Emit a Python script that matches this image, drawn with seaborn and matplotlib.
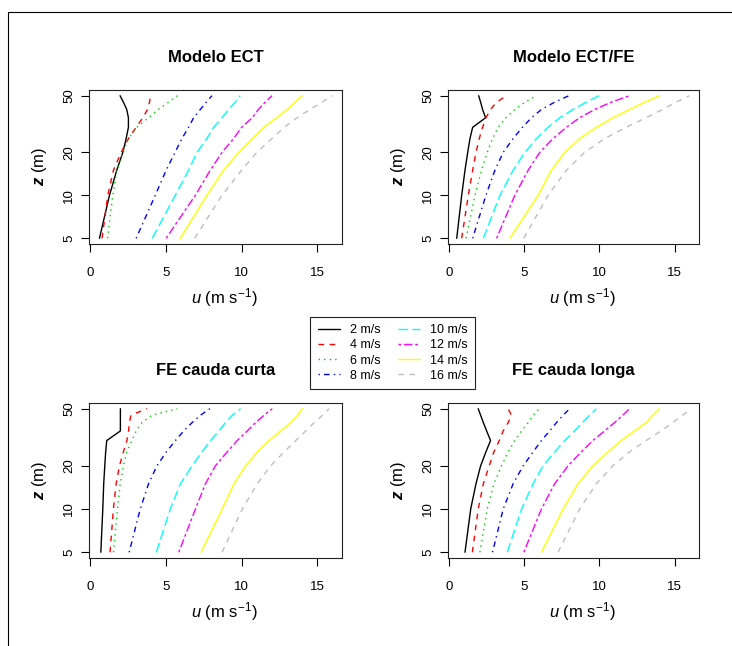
import pandas as pd
import matplotlib.pyplot as plt
import seaborn as sns
from matplotlib.lines import Line2D
from matplotlib.ticker import NullLocator

# alturas (m) e velocidades de referencia
z_m = [5, 10, 15, 20, 25, 30, 35, 40, 45, 50]
speeds = ['2 m/s', '4 m/s', '6 m/s', '8 m/s', '10 m/s', '12 m/s', '14 m/s', '16 m/s']
titles = ['Modelo ECT', 'Modelo ECT/FE', 'FE cauda curta', 'FE cauda longa']

# perfis u(z), uma lista por velocidade
u_ect = [
    [0.62, 1.28, 1.76, 2.16, 2.38, 2.53, 2.53, 2.42, 2.20, 1.98],
    [0.79, 1.17, 1.54, 2.05, 2.53, 3.04, 3.48, 3.79, 3.92, 4.00],
    [1.15, 1.50, 1.76, 2.16, 2.53, 3.08, 3.85, 4.50, 5.18, 5.77],
    [3.04, 4.30, 5.02, 5.60, 6.06, 6.50, 6.83, 7.27, 7.67, 8.04],
    [4.10, 5.62, 6.50, 7.05, 7.70, 8.15, 8.70, 9.14, 9.58, 9.90],
    [5.02, 6.94, 7.93, 8.70, 9.47, 10.0, 10.7, 11.1, 11.56, 12.0],
    [5.95, 7.70, 8.80, 9.80, 10.7, 11.45, 12.3, 13.0, 13.5, 14.0],
    [6.90, 8.70, 10.0, 11.0, 12.0, 12.8, 13.66, 14.5, 15.3, 16.0],
]
u_ect_fe = [
    [0.51, 0.84, 1.06, 1.24, 1.39, 1.57, 2.43, 2.23, 2.10, 1.97],
    [0.84, 1.28, 1.57, 1.79, 2.01, 2.23, 2.45, 2.76, 3.16, 3.82],
    [1.13, 1.72, 2.16, 2.54, 2.89, 3.27, 3.78, 4.37, 5.04, 5.81],
    [1.57, 2.45, 3.05, 3.60, 4.26, 4.88, 5.48, 6.14, 7.02, 7.97],
    [2.28, 3.38, 4.26, 5.04, 5.81, 6.58, 7.36, 8.24, 9.12, 9.96],
    [3.16, 4.37, 5.26, 6.03, 6.91, 7.80, 8.68, 9.68, 10.78, 12.0],
    [4.04, 5.92, 6.80, 7.69, 8.68, 9.79, 10.89, 12.0, 13.0, 13.98],
    [4.97, 6.58, 7.80, 9.01, 10.34, 11.77, 13.1, 14.2, 15.09, 15.97],
]
u_curta = [
    [0.71, 0.84, 0.90, 0.97, 1.03, 1.10, 2.00, 2.00, 2.00, 2.00],
    [1.32, 1.54, 1.72, 1.94, 2.20, 2.43, 2.54, 2.60, 2.69, 3.75],
    [1.54, 1.81, 1.99, 2.20, 2.43, 2.76, 3.04, 3.42, 4.08, 5.74],
    [2.58, 3.31, 3.86, 4.41, 5.03, 5.63, 6.18, 6.73, 7.28, 7.90],
    [4.37, 5.29, 5.96, 6.73, 7.39, 7.94, 8.50, 8.93, 9.38, 9.93],
    [5.85, 6.95, 7.61, 8.27, 9.04, 9.71, 10.37, 10.92, 11.47, 12.02],
    [7.32, 8.71, 9.49, 10.26, 11.03, 11.80, 12.57, 13.24, 13.68, 14.0],
    [8.71, 10.04, 11.03, 11.91, 12.80, 13.57, 14.23, 14.78, 15.33, 15.77],
]
u_longa = [
    [1.06, 1.44, 1.79, 2.10, 2.45, 2.76, 2.50, 2.28, 2.10, 1.94],
    [1.55, 1.94, 2.28, 2.67, 2.98, 3.34, 3.60, 3.93, 4.15, 3.93],
    [2.05, 2.54, 2.98, 3.49, 3.93, 4.37, 4.82, 5.26, 5.59, 5.99],
    [2.89, 3.60, 4.26, 4.93, 5.59, 6.14, 6.69, 7.14, 7.58, 8.02],
    [3.87, 4.82, 5.59, 6.25, 7.02, 7.69, 8.35, 8.86, 9.34, 9.79],
    [4.97, 6.14, 7.02, 7.91, 8.79, 9.56, 10.34, 11.0, 11.55, 12.0],
    [6.14, 7.58, 8.57, 9.56, 10.56, 11.44, 12.33, 13.1, 13.54, 13.98],
    [7.25, 8.68, 9.79, 10.89, 12.0, 13.1, 14.09, 14.87, 15.53, 16.08],
]
panels = [u_ect, u_ect_fe, u_curta, u_longa]

# estilos no padrao do R (palette() e lty 1..8)
colors = ['#000000', '#FF0000', '#00CD00', '#0000FF', '#00FFFF', '#FF00FF', '#FFFF00', '#BEBEBE']
dash_list = ['', (4, 4), (1, 3), (1, 3, 4, 3), (7, 3), (2, 2, 6, 2), '', (4, 4)]
palette = dict(zip(speeds, colors))
dashes = dict(zip(speeds, dash_list))

sns.set_style('ticks')
plt.rcParams['font.family'] = ['Liberation Sans', 'DejaVu Sans']
plt.rcParams['mathtext.fontset'] = 'custom'
plt.rcParams['mathtext.rm'] = 'Liberation Sans'
plt.rcParams['mathtext.it'] = 'Liberation Sans:italic'
plt.rcParams['mathtext.bf'] = 'Liberation Sans:bold:italic'
for key in ['text.color', 'axes.labelcolor', 'xtick.color', 'ytick.color']:
    plt.rcParams[key] = 'black'

W, H = 732, 646
fig = plt.figure(figsize=(W / 100, H / 100), dpi=100)
boxes = [(89, 90, 342, 244), (448, 90, 699, 244), (89, 403, 342, 558), (448, 403, 699, 558)]

handles = None
for i, (u_all, title, (l, t, r, b)) in enumerate(zip(panels, titles, boxes)):
    ax = fig.add_axes([l / W, 1 - b / H, (r - l) / W, (b - t) / H])
    rows = []
    for s, u in zip(speeds, u_all):
        for uu, zz in zip(u, z_m):
            rows.append({'u': uu, 'z': zz, 'vel': s})
    df = pd.DataFrame(rows)
    sns.lineplot(data=df, x='u', y='z', hue='vel', style='vel', hue_order=speeds,
                 style_order=speeds, palette=palette, dashes=dashes, sort=False,
                 estimator=None, units='vel', linewidth=1.0, ax=ax, legend=(i == 0))
    if i == 0:
        handles, labels = ax.get_legend_handles_labels()
        ax.get_legend().remove()
    ax.set_yscale('log')
    ax.set_xlim(-0.07, 16.62)
    ax.set_ylim(4.56, 54.8)
    ax.set_xticks([0, 5, 10, 15])
    ax.set_xticklabels(['0', '5', '10', '15'])
    ax.set_yticks([5, 10, 20, 50])
    ax.set_yticklabels(['5', '10', '20', '50'], rotation=90, va='center')
    ax.yaxis.set_minor_locator(NullLocator())
    ax.tick_params(length=6, width=0.8, labelsize=9.5, color='black')
    ax.tick_params(axis='x', pad=10.5)
    ax.tick_params(axis='y', pad=4)
    for sp in ax.spines.values():
        sp.set_linewidth(0.8)
        sp.set_color('#222222')
    ax.set_xlabel(r'$u$ (m s$^{-1}$)', fontsize=12, labelpad=5, x=0.5 + 9 / 253, ha='center')
    ax.set_ylabel(r'$\mathbf{z}$ (m)', fontsize=12, labelpad=10)
    ax.set_title(title, fontweight='bold', fontsize=12, pad=20.5)

fig.legend(handles, labels, ncol=2, loc='center', bbox_to_anchor=(392.5 / W, 1 - 353 / H),
           fontsize=9, handlelength=1.75, handletextpad=0.8, columnspacing=1.4,
           labelspacing=0.25, borderpad=0.6, frameon=True, fancybox=False,
           edgecolor='#222222', framealpha=1)
fig.legends[0].get_frame().set_linewidth(0.8)

# moldura superior e esquerda
fig.add_artist(Line2D([8 / W, 8 / W, 1], [0, 1 - 12 / H, 1 - 12 / H], color='black', lw=0.8))

fig.savefig('out.png', dpi=100)
